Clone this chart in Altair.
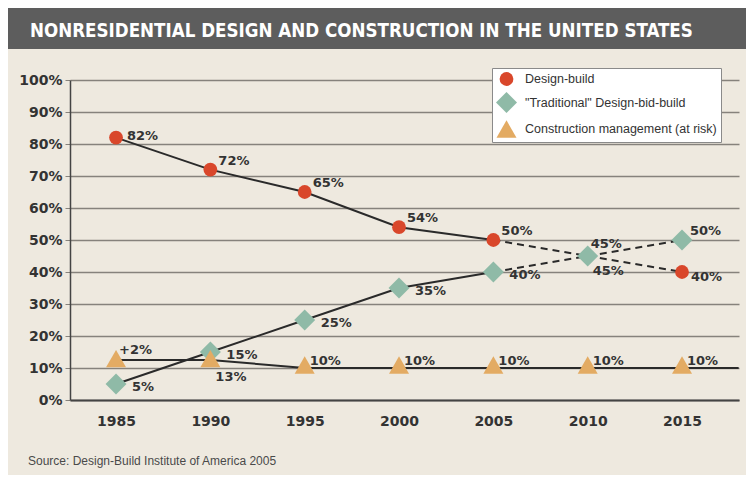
import altair as alt
import pandas as pd

TITLE = "NONRESIDENTIAL DESIGN AND CONSTRUCTION IN THE UNITED STATES"
SOURCE = "Source: Design-Build Institute of America 2005"

series_names = ["Design-build", "\"Traditional\" Design-bid-build", "Construction management (at risk)"]
series_colors = ["#d9472b", "#8fbaa7", "#e3ab63"]
series_shapes = ["circle", "diamond", "triangle-up"]
series_sizes = [190, 440, 400]

years = [1985, 1990, 1995, 2000, 2005, 2010, 2015]
design_build = [82, 72, 65, 54, 50, 45, 40]
traditional = [5, 15, 25, 35, 40, 45, 50]
cm_at_risk = [12, 12, 10, 10, 10, 10, 10]

# the construction-management trend line runs on to the right edge
cm_line_years = [1985, 1990, 1995, 2000, 2005, 2010, 2015, 2018]
cm_line = [12.5, 12.5, 10, 10, 10, 10, 10, 10]

design_build_labels = ["82%", "72%", "65%", "54%", "50%", "45%", "40%"]
traditional_labels = ["5%", "15%", "25%", "35%", "40%", "45%", "50%"]
cm_labels = ["+2%", "13%", "10%", "10%", "10%", "10%", "10%"]

# where each value label sits relative to its marker
design_build_place = ["r", "ur", "ur", "ur", "ur", "below", "rl2"]
traditional_place = ["rl", "rl", "rl", "rl", "rl", "above", "ur"]
cm_place = ["above", "below", "cm", "cm", "cm", "cm", "cm"]

x_ticks = years
y_ticks = list(range(0, 101, 10))

# ---------------- tables ----------------
line_rows = []
for name, vals in [(series_names[0], design_build), (series_names[1], traditional)]:
    for yr, v in zip(years, vals):
        if yr <= 2005:
            line_rows.append({"series": name, "year": yr, "value": v, "seg": "solid"})
        if yr >= 2005:
            line_rows.append({"series": name, "year": yr, "value": v, "seg": "dashed"})
for yr, v in zip(cm_line_years, cm_line):
    line_rows.append({"series": series_names[2], "year": yr, "value": v, "seg": "solid"})
lines_df = pd.DataFrame(line_rows)

pts_main = pd.DataFrame(
    [{"series": series_names[0], "year": y, "value": v} for y, v in zip(years, design_build)]
    + [{"series": series_names[1], "year": y, "value": v} for y, v in zip(years, traditional)]
)
pts_cm = pd.DataFrame([{"series": series_names[2], "year": y, "value": v} for y, v in zip(years, cm_at_risk)])

lab_rows = []
for vals, labs, places in [
    (design_build, design_build_labels, design_build_place),
    (traditional, traditional_labels, traditional_place),
    (cm_at_risk, cm_labels, cm_place),
]:
    for y, v, t, p in zip(years, vals, labs, places):
        lab_rows.append({"year": y, "value": v, "text": t, "place": p})
labels_df = pd.DataFrame(lab_rows)

one = pd.DataFrame([{"t": TITLE, "s": SOURCE}])

# ---------------- encodings ----------------
x_enc = alt.X(
    "year:Q",
    scale=alt.Scale(domain=[1982.56, 2018.02], nice=False, zero=False),
    axis=alt.Axis(
        values=x_ticks, format="d", title=None, grid=False, ticks=False,
        labelFont="DejaVu Sans", labelFontWeight="bold", labelFontSize=14,
        labelColor="#333333", labelPadding=14, domainColor="#444444", domainWidth=2,
    ),
)
y_enc = alt.Y(
    "value:Q",
    scale=alt.Scale(domain=[0, 100], nice=False),
    axis=alt.Axis(
        values=y_ticks, labelExpr="datum.value + '%'", title=None, grid=True,
        gridColor="#86827c", gridWidth=1.3, tickColor="#86827c", tickSize=5,
        labelPadding=3, labelFont="DejaVu Sans", labelFontWeight="bold",
        labelFontSize=14, labelColor="#333333", domainColor="#444444", domainWidth=1.5,
    ),
)
color_enc = alt.Color("series:N", scale=alt.Scale(domain=series_names, range=series_colors), title=None)
shape_enc = alt.Shape("series:N", scale=alt.Scale(domain=series_names, range=series_shapes), title=None)
size_enc = alt.Size(
    "series:N", scale=alt.Scale(type="ordinal", domain=series_names, range=series_sizes), title=None
)

base_lines = alt.Chart(lines_df)
solid = base_lines.mark_line(color="#2a2a2a", strokeWidth=2).encode(
    x=x_enc, y=y_enc, detail="series:N", order="year:Q"
).transform_filter(alt.datum.seg == "solid")
dashed = base_lines.mark_line(color="#2a2a2a", strokeWidth=2, strokeDash=[7, 5]).encode(
    x=x_enc, y=y_enc, detail="series:N", order="year:Q"
).transform_filter(alt.datum.seg == "dashed")

points_main = alt.Chart(pts_main).mark_point(filled=True, opacity=1).encode(
    x=x_enc, y=y_enc, color=color_enc, shape=shape_enc, size=size_enc
)
points_cm = alt.Chart(pts_cm).mark_point(filled=True, opacity=1, yOffset=-3).encode(
    x=x_enc, y=y_enc, color=color_enc, shape=shape_enc, size=size_enc
)

offsets = {
    "ur": (8, -9),
    "r": (11, -2),
    "rl": (16, 3),
    "rl2": (9, 5),
    "above": (3, -12),
    "below": (5, 15),
    "cm": (5, -7),
}
label_layers = []
for key, (dx, dy) in offsets.items():
    label_layers.append(
        alt.Chart(labels_df).mark_text(
            align="left", baseline="middle", dx=dx, dy=dy,
            font="DejaVu Sans", fontWeight="bold", fontSize=13, color="#333333",
        ).encode(x=x_enc, y=y_enc, text="text:N").transform_filter(alt.datum.place == key)
    )

banner = alt.Chart(one).mark_rect(color="#5d5d5d").encode(
    x=alt.value(-80), x2=alt.value(700), y=alt.value(-90), y2=alt.value(-31)
)
title_txt = alt.Chart(one).mark_text(
    align="left", baseline="alphabetic",
    font="'Liberation Sans Narrow', 'DejaVu Sans Condensed', Roboto, sans-serif",
    fontWeight="bold", fontSize=18.6, color="#ffffff",
).encode(x=alt.value(-40), y=alt.value(-43), text="t:N")
source_txt = alt.Chart(one).mark_text(
    align="left", baseline="alphabetic", font="Liberation Sans",
    fontSize=12, color="#4a4a4a",
).encode(x=alt.value(-42), y=alt.value(385), text="s:N")

chart = alt.layer(
    banner, title_txt, source_txt, solid, dashed, points_main, points_cm, *label_layers
).properties(
    width=669, height=320,
    autosize=alt.AutoSizeParams(type="none"),
    padding={"left": 62, "top": 72, "right": 7, "bottom": 75},
    background="#eee9df",
).configure_view(
    strokeWidth=0
).configure_legend(
    orient="none", legendX=422, legendY=-12, fillColor="#ffffff", strokeColor="#8a8a8a",
    padding=4, rowPadding=6, labelFont="Liberation Sans", labelFontSize=12.5,
    labelColor="#333333", labelOffset=8, labelLimit=400, symbolStrokeWidth=0, symbolOpacity=1,
)

chart.save("out.html", embed_options={"renderer": "svg", "actions": False})
